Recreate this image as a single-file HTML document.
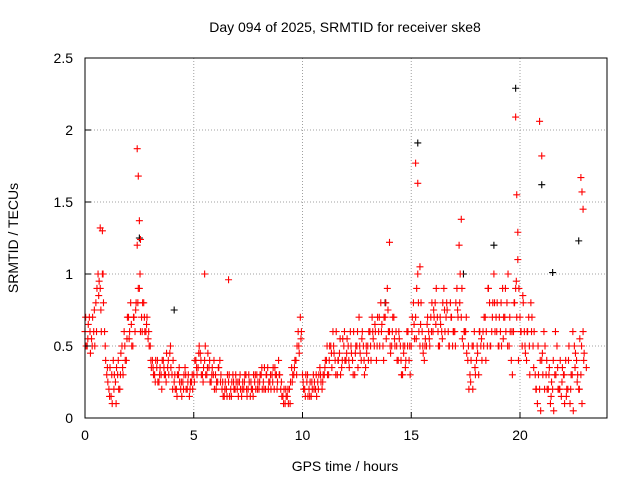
<!DOCTYPE html>
<html><head><meta charset="utf-8"><style>
body{margin:0;background:#fff;}
svg{font-family:"Liberation Sans",sans-serif;}
</style></head><body>
<svg id="c" width="640" height="480">
<rect width="640" height="480" fill="#fff"/>
<g id="grid"></g><g id="marks"></g><g id="axes"></g>
<text x="345" y="32" font-size="14" text-anchor="middle">Day 094 of 2025, SRMTID for receiver ske8</text>
<text x="345" y="471" font-size="14" text-anchor="middle">GPS time / hours</text>
<text x="18" y="238" font-size="14" text-anchor="middle" transform="rotate(-90 18 238)">SRMTID / TECUs</text>
</svg>
<script>
const xTicks=[0,5,10,15,20];
const yTicks=[0,0.5,1,1.5,2,2.5];
const yTickLabels=["0","0.5","1","1.5","2","2.5"];
const tStep=0.1;
const seriesStarts=[0,0.05,0.03];
const seriesA=[0.6,0.5,0.7,0.55,0.6,0.8,1.0,0.9,1.3,0.6,0.3,0.2,0.15,0.4,0.25,0.3,0.2,0.5,0.6,0.4,0.7,0.8,0.5,0.6,1.2,0.9,0.7,0.8,0.6,0.55,0.5,0.4,0.3,0.35,0.25,0.3,0.4,0.3,0.35,0.45,0.3,0.25,0.2,0.3,0.2,0.25,0.35,0.2,0.15,0.25,0.3,0.4,0.35,0.45,0.3,0.4,0.3,0.35,0.25,0.3,0.3,0.25,0.4,0.2,0.15,0.2,0.25,0.2,0.3,0.2,0.2,0.25,0.15,0.2,0.3,0.2,0.15,0.2,0.25,0.3,0.2,0.3,0.25,0.2,0.35,0.25,0.3,0.2,0.3,0.4,0.2,0.15,0.1,0.15,0.2,0.35,0.3,0.4,0.6,0.7,0.3,0.2,0.25,0.2,0.15,0.3,0.2,0.25,0.35,0.2,0.3,0.4,0.3,0.5,0.6,0.4,0.3,0.45,0.35,0.5,0.4,0.5,0.6,0.4,0.3,0.5,0.7,0.4,0.5,0.35,0.5,0.6,0.7,0.5,0.4,0.6,0.8,0.5,0.7,0.9,0.6,0.5,0.7,0.6,0.4,0.5,0.3,0.5,0.6,0.4,0.5,0.8,0.7,1.0,0.5,0.6,0.4,0.5,0.6,0.7,0.6,0.8,0.7,0.5,0.6,0.9,0.7,0.6,0.8,0.5,0.6,0.9,1.2,0.7,0.5,0.6,0.4,0.3,0.5,0.6,0.4,0.3,0.5,0.6,0.7,0.5,0.8,0.6,1.0,0.7,0.5,0.6,0.9,0.7,0.8,0.5,0.4,0.6,0.9,1.1,0.7,0.5,0.6,0.4,0.7,0.8,0.5,0.3,0.1,0.2,0.4,0.6,0.3,0.2,0.1,0.2,0.3,0.5,0.2,0.15,0.3,0.4,0.2,0.1,0.3,0.5,0.4,0.2,0.3,0.6];
const seriesB=[0.5,0.65,0.45,0.7,0.5,0.9,0.95,0.6,0.8,0.4,0.25,0.35,0.1,0.3,0.35,0.2,0.45,0.3,0.4,0.7,0.6,0.5,0.7,0.8,0.9,0.6,0.8,0.6,0.7,0.5,0.35,0.3,0.4,0.25,0.35,0.4,0.3,0.45,0.3,0.35,0.4,0.2,0.3,0.25,0.15,0.3,0.2,0.3,0.25,0.2,0.4,0.3,0.5,0.3,0.35,0.3,0.45,0.25,0.35,0.2,0.25,0.35,0.3,0.15,0.25,0.3,0.15,0.25,0.2,0.25,0.15,0.2,0.25,0.3,0.15,0.25,0.2,0.3,0.2,0.25,0.3,0.2,0.35,0.3,0.25,0.2,0.35,0.3,0.25,0.3,0.15,0.2,0.15,0.1,0.25,0.3,0.4,0.5,0.45,0.6,0.2,0.3,0.15,0.25,0.2,0.25,0.15,0.3,0.25,0.3,0.4,0.3,0.5,0.35,0.45,0.6,0.4,0.3,0.55,0.4,0.55,0.35,0.45,0.6,0.5,0.35,0.45,0.6,0.3,0.45,0.6,0.4,0.55,0.6,0.7,0.5,0.65,0.7,0.55,0.6,0.45,0.7,0.5,0.4,0.55,0.3,0.45,0.4,0.6,0.3,0.7,0.55,0.9,0.6,0.8,0.45,0.55,0.7,0.5,0.8,0.7,0.9,0.5,0.65,0.8,0.6,0.75,0.5,0.7,0.6,0.8,0.7,1.0,0.55,0.6,0.45,0.2,0.4,0.5,0.3,0.45,0.6,0.4,0.7,0.6,0.9,0.5,0.8,0.6,0.8,0.7,0.5,0.7,0.6,1.0,0.6,0.3,0.8,0.7,0.9,0.6,0.8,0.45,0.6,0.3,0.7,0.6,0.2,0.3,0.05,0.3,0.5,0.2,0.35,0.25,0.05,0.3,0.2,0.4,0.35,0.1,0.2,0.5,0.3,0.05,0.45,0.3,0.55,0.1,0.45,0.35];
const seriesC=[0.7,0.55,0.6,0.5,0.75,0.6,0.85,0.75,1.0,0.5,0.35,0.15,0.3,0.2,0.1,0.4,0.3,0.35,0.5,0.55,0.55,0.65,0.7,0.75,0.8,1.0,0.6,0.7,0.65,0.6,0.4,0.35,0.25,0.4,0.3,0.2,0.35,0.25,0.4,0.5,0.2,0.3,0.15,0.35,0.25,0.2,0.3,0.25,0.2,0.3,0.25,0.35,0.45,0.4,0.25,0.5,0.35,0.4,0.3,0.4,0.2,0.35,0.25,0.25,0.2,0.15,0.3,0.15,0.25,0.3,0.25,0.3,0.2,0.25,0.2,0.3,0.25,0.15,0.3,0.2,0.25,0.35,0.2,0.3,0.2,0.3,0.25,0.35,0.2,0.3,0.25,0.1,0.2,0.2,0.1,0.25,0.35,0.3,0.5,0.55,0.25,0.15,0.3,0.15,0.25,0.2,0.3,0.2,0.3,0.25,0.35,0.5,0.4,0.45,0.5,0.3,0.4,0.55,0.4,0.6,0.45,0.4,0.5,0.3,0.45,0.6,0.5,0.55,0.4,0.5,0.4,0.5,0.6,0.65,0.5,0.7,0.6,0.4,0.8,0.75,0.5,0.6,0.55,0.5,0.6,0.4,0.5,0.35,0.5,0.5,0.6,0.65,0.55,0.8,0.65,0.5,0.5,0.65,0.55,0.6,0.75,0.65,0.6,0.7,0.55,0.75,0.8,0.5,0.7,0.6,0.5,0.75,0.8,0.9,0.6,0.7,0.5,0.25,0.2,0.35,0.5,0.6,0.55,0.5,0.4,0.9,0.5,0.7,0.8,0.6,0.5,0.8,0.55,0.9,0.5,0.7,0.6,0.8,0.95,0.4,0.6,0.85,0.5,0.6,0.5,0.6,0.35,0.2,0.5,0.4,0.45,0.2,0.4,0.3,0.15,0.4,0.6,0.35,0.2,0.25,0.3,0.15,0.4,0.2,0.6,0.35,0.25,0.2,0.5,0.4];
const spikeT=[0.7,0.8,2.4,2.45,2.5,2.55,5.5,6.6,14.0,15.2,15.3,15.4,17.3,19.8,19.85,19.9,20.9,21.0,22.8,22.85,22.9];
const spikeV=[1.32,1.0,1.87,1.68,1.37,1.24,1.0,0.96,1.22,1.77,1.63,1.05,1.38,2.09,1.55,1.29,2.06,1.82,1.67,1.57,1.45];
const blackT=[15.3,19.8,21.0,2.5,4.1,22.7,18.8,21.5,13.8,17.4];
const blackV=[1.91,2.29,1.62,1.25,0.75,1.23,1.2,1.01,0.8,1.0];
const L=85,R=607,T=58,B=418,xMax=24,yMax=2.5;
const X=v=>L+v/xMax*(R-L), Y=v=>B-v/yMax*(B-T);
const ns="http://www.w3.org/2000/svg";
const grid=document.getElementById('grid'),marks=document.getElementById('marks'),axes=document.getElementById('axes');
function mk(tag,attrs,parent){const e=document.createElementNS(ns,tag);for(const k in attrs)e.setAttribute(k,attrs[k]);parent.appendChild(e);return e;}
xTicks.forEach(t=>{
 if(t>0){const g=mk('line',{x1:X(t),x2:X(t),y1:T,y2:B,stroke:'#a0a0a0','stroke-dasharray':'1,2'},grid);
 
 }
 const tk=mk('line',{x1:X(t),x2:X(t),y1:B,y2:B-6,stroke:'#000'},axes);
 
 
 const lb=mk('text',{x:X(t),y:B+22,'font-size':14,'text-anchor':'middle'},axes);lb.textContent=String(t);
 
 
});
yTicks.forEach((t,i)=>{
 if(t>0&&t<yMax){const g=mk('line',{x1:L,x2:R,y1:Y(t),y2:Y(t),stroke:'#a0a0a0','stroke-dasharray':'1,2'},grid);
 
 }
 const tk=mk('line',{x1:L,x2:L+6,y1:Y(t),y2:Y(t),stroke:'#000'},axes);
 
 
 const lb=mk('text',{x:L-12,y:Y(t)+5,'font-size':14,'text-anchor':'end'},axes);lb.textContent=yTickLabels[i];
 
 
});
const fr=mk('rect',{x:L,y:T,width:R-L,height:B-T,fill:'none',stroke:'#000'},axes);


function plus(t,v,col){const x=X(t),y=Y(v);
 const p=mk('path',{d:`M${x-3.5},${y}h7M${x},${y-3.5}v7`,stroke:col,'stroke-width':1.1,fill:'none'},marks);
 
 }
blackT.forEach((t,i)=>plus(t,blackV[i],'#000'));
[seriesA,seriesB,seriesC].forEach((s,k)=>s.forEach((v,i)=>plus(seriesStarts[k]+i*tStep,v,'#f00')));
spikeT.forEach((t,i)=>plus(t,spikeV[i],'#f00'));
</script>
</body></html>
